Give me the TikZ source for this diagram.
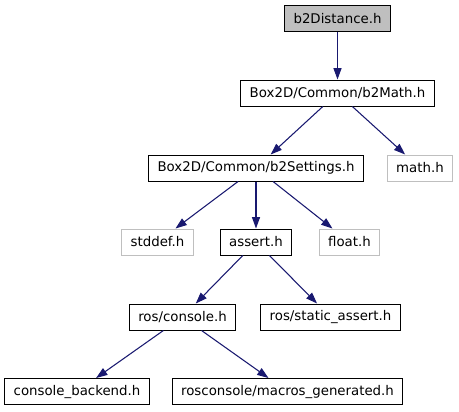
\documentclass[tikz,border=0pt]{standalone}
\usepackage{fontspec}
\setmainfont{DejaVu Sans}
\usetikzlibrary{arrows.meta, positioning}

\definecolor{edgeblue}{HTML}{191970}
\definecolor{rootgray}{HTML}{BFBFBF}
\definecolor{missgray}{HTML}{BFBFBF}

\begin{document}
\begin{tikzpicture}[
  x=0.75pt, y=-0.75pt,
  hdr/.style={rectangle, draw=black, line width=0.75pt, fill=white,
              minimum height=19.5pt, inner xsep=6.6pt, inner ysep=0pt,
              font=\fontsize{10}{12}\selectfont},
  roothdr/.style={hdr, fill=rootgray},
  syshdr/.style={hdr, draw=missgray},
  inc/.style={draw=edgeblue, line width=0.8pt,
              -{Triangle[length=8.5pt, width=6pt]}},
]
\useasboundingbox (0,0) rectangle (459,411);

% ---- files ----
\node[roothdr] (dist)     at (337.5,18.5) {b2Distance.h};
\node[hdr]     (math)     at (337.5,93)   {Box2D/Common/b2Math.h};
\node[hdr]     (settings) at (256,168)    {Box2D/Common/b2Settings.h};
\node[syshdr]  (mathh)    at (420,168)    {math.h};
\node[syshdr]  (stddef)   at (157.5,242)  {stddef.h};
\node[hdr]     (assert)   at (256,242)    {assert.h};
\node[syshdr]  (float)    at (349.5,242)  {float.h};
\node[hdr]     (console)  at (182.5,317)  {ros/console.h};
\node[hdr]     (sassert)  at (330.5,317)  {ros/static\_assert.h};
\node[hdr]     (backend)  at (77,391.5)   {console\_backend.h};
\node[hdr]     (macros)   at (287.5,391.5) {rosconsole/macros\_generated.h};

% ---- includes ----
\draw[inc] (dist)     -- (math);
\draw[inc] (math)     -- (settings);
\draw[inc] (math)     -- (mathh);
\draw[inc] (settings) -- (stddef);
\draw[inc] (settings) -- (assert);
\draw[inc] (settings) -- (float);
\draw[inc] (assert)   -- (console);
\draw[inc] (assert)   -- (sassert);
\draw[inc] (console)  -- (backend);
\draw[inc] (console)  -- (macros);

\end{tikzpicture}
\end{document}
